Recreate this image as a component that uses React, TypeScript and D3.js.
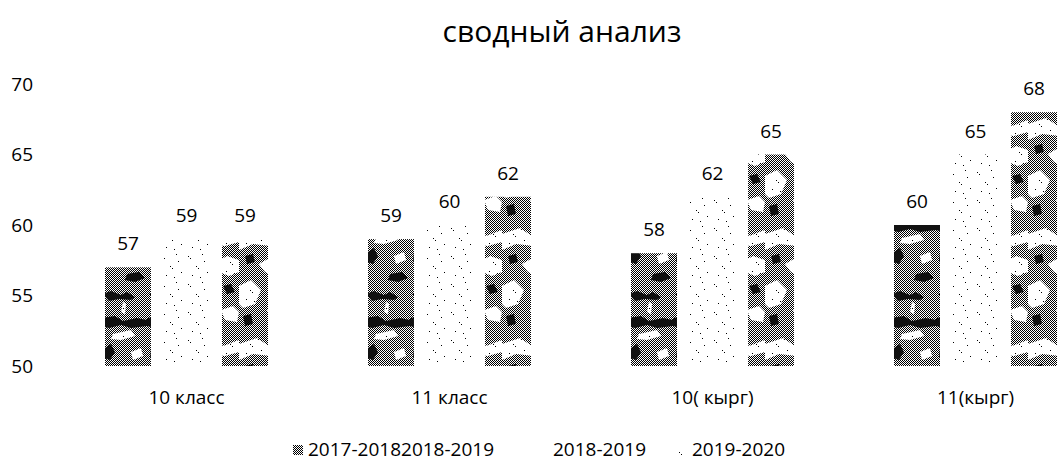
import React from 'react';
import * as d3 from 'd3';

const title = "сводный анализ";
const categories = ["10 класс", "11 класс", "10( кырг)", "11(кырг)"];
const seriesNames = ["2017-20182018-2019", "2018-2019", "2019-2020"];
const series1 = [57, 59, 58, 60];
const series2 = [59, 60, 62, 65];
const series3 = [59, 62, 65, 68];
const yTicks = [50, 55, 60, 65, 70];

const FONT = "'Open Sans', 'Noto Sans', sans-serif";

export default function App() {
  const W = 1057, H = 463;
  const values = [series1, series2, series3];
  const fills = ["url(#pat1)", "url(#dots)", "url(#pat3)"];

  const x0 = d3.scaleBand<string>().domain(categories).range([55, 1107]);
  const x1 = d3.scaleBand<string>().domain(seriesNames).range([50, 213]).paddingInner(0.214);
  const y = d3.scaleLinear().domain([50, 70]).range([366, 84]);

  const legendItems = [
    { name: seriesNames[0], mx: 293, tx: 308, fill: "url(#pat1)" },
    { name: seriesNames[1], mx: 540, tx: 553, fill: "none" },
    { name: seriesNames[2], mx: 675, tx: 692, fill: "url(#dots)" },
  ];

  return (
    <svg width={W} height={H} style={{ position: 'absolute', left: 0, top: 0, display: 'block', background: '#fff' }}>
      <defs>
        <pattern id="chk" width={2} height={2} patternUnits="userSpaceOnUse">
          <rect width={2} height={2} fill="#fff" />
          <rect x={0} y={0} width={1} height={1} fill="#000" />
          <rect x={1} y={1} width={1} height={1} fill="#000" />
        </pattern>
        <pattern id="dots" width={26} height={28} patternUnits="userSpaceOnUse">
          <rect width={26} height={28} fill="#fff" />
          <rect x={3} y={4} width={1} height={1} fill="#000" />
          <rect x={5} y={6} width={1} height={1} fill="#000" />
          <rect x={17} y={2} width={1} height={1} fill="#000" />
          <rect x={19} y={9} width={1} height={1} fill="#000" />
          <rect x={11} y={14} width={1} height={1} fill="#000" />
          <rect x={13} y={16} width={1} height={1} fill="#000" />
          <rect x={22} y={20} width={1} height={1} fill="#000" />
          <rect x={7} y={23} width={1} height={1} fill="#000" />
          <rect x={15} y={25} width={1} height={1} fill="#000" />
        </pattern>
        <pattern id="pat1" width={46} height={96} patternUnits="userSpaceOnUse">
          <rect width={46} height={96} fill="url(#chk)" />
          <path d="M2,6 L10,3 L20,7 L26,4 L34,9 L30,12 L18,11 L8,13 Z" fill="#111" />
          <path d="M0,30 L14,28 L22,33 L36,30 L46,32 L46,38 L30,40 L20,37 L8,40 L0,38 Z" fill="#111" />
          <path d="M4,60 L10,56 L14,64 L9,72 L3,70 Z" fill="#111" />
          <path d="M26,82 L38,80 L44,86 L34,90 L24,88 Z" fill="#111" />
          <path d="M22,14 L25,16 L24,26 L20,24 Z" fill="url(#dots)" />
          <path d="M12,46 L30,42 L34,48 L20,52 L10,51 Z" fill="url(#dots)" />
          <path d="M30,64 L40,60 L42,68 L32,72 Z" fill="url(#dots)" />
        </pattern>
        <pattern id="pat3" width={46} height={110} patternUnits="userSpaceOnUse">
          <rect width={46} height={110} fill="url(#chk)" />
          <path d="M0,14 L18,8 L30,16 L46,10 L46,22 L32,26 L14,24 L0,30 Z" fill="url(#dots)" />
          <path d="M20,44 L34,36 L46,40 L46,52 L36,56 L26,52 Z" fill="url(#dots)" />
          <path d="M0,66 L12,60 L22,70 L16,84 L4,88 L0,84 Z" fill="url(#dots)" />
          <path d="M28,90 L40,86 L46,92 L44,102 L32,100 Z" fill="#fff" />
          <path d="M6,36 L14,34 L16,42 L8,44 Z" fill="#111" />
          <path d="M30,66 L38,64 L42,72 L34,74 Z" fill="#111" />
          <path d="M4,96 L12,94 L14,104 L6,106 Z" fill="#111" />
        </pattern>
      </defs>

      <text x={562} y={42} textAnchor="middle" fontFamily={FONT} fontSize={30} fill="#000">{title}</text>

      {yTicks.map(t => (
        <text key={t} x={33} y={y(t)} dy="0.35em" textAnchor="end" fontFamily={FONT} fontSize={19} fill="#000">{t}</text>
      ))}

      {categories.map((c, ci) => (
        <g key={c} transform={`translate(${x0(c)},0)`}>
          {seriesNames.map((s, si) => {
            const v = values[si][ci];
            const bx = x1(s)!;
            const bw = x1.bandwidth();
            return (
              <g key={s}>
                <rect x={bx} y={y(v)} width={bw} height={y(50) - y(v)} fill={fills[si]} />
                <text x={bx + bw / 2} y={y(v) - 17} textAnchor="middle" fontFamily={FONT} fontSize={19} fill="#000">{v}</text>
              </g>
            );
          })}
          <text x={x0.bandwidth() / 2} y={404} textAnchor="middle" fontFamily={FONT} fontSize={19} fill="#000">{c}</text>
        </g>
      ))}

      {legendItems.map(l => (
        <g key={l.name}>
          <rect x={l.mx} y={445} width={10} height={10} fill={l.fill} />
          <text x={l.tx} y={456} fontFamily={FONT} fontSize={19} fill="#000">{l.name}</text>
        </g>
      ))}
    </svg>
  );
}
